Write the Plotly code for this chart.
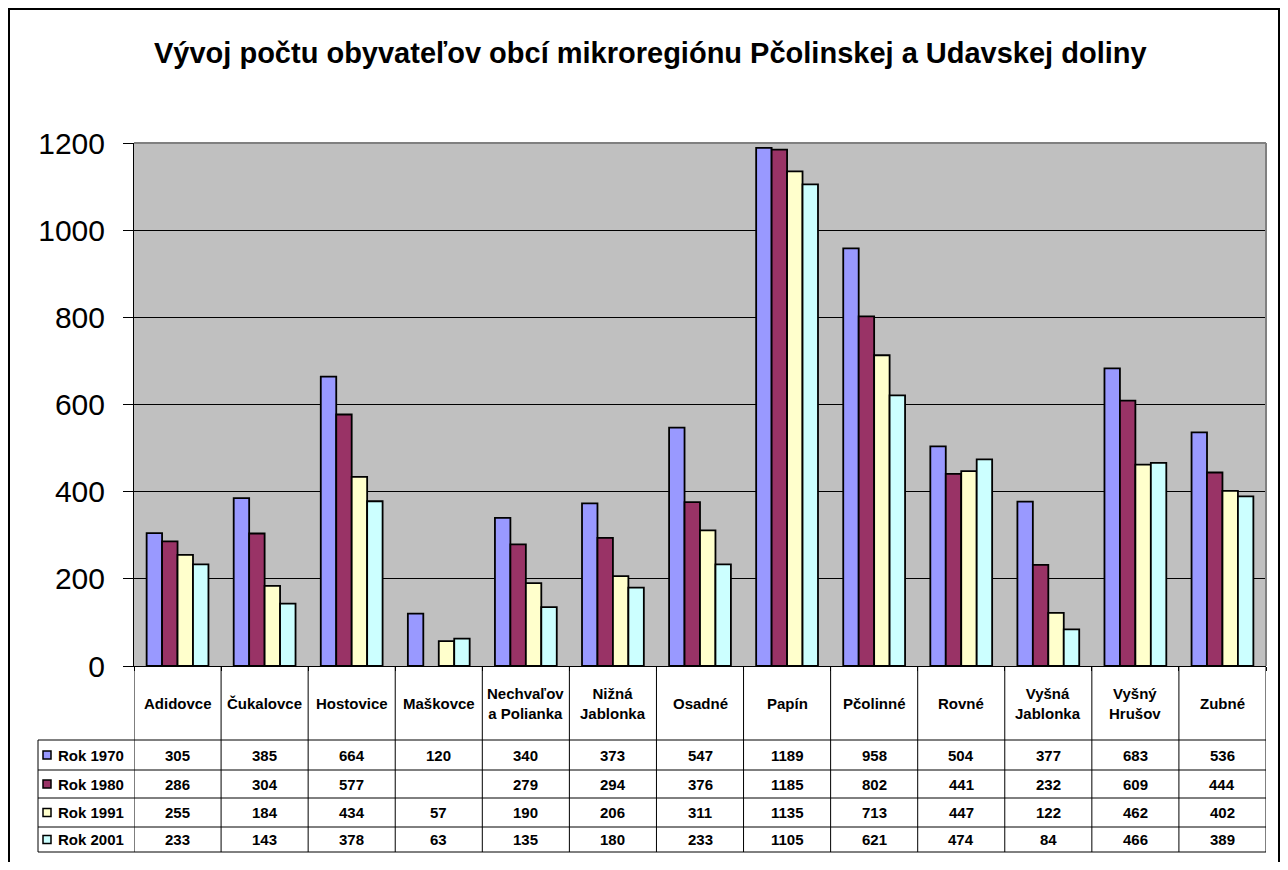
import plotly.graph_objects as go

# Obce mikroregiónu a počty obyvateľov v jednotlivých rokoch sčítania
obce = ['Adidovce', 'Čukalovce', 'Hostovice', 'Maškovce', 'Nechvaľov<br>a Polianka',
        'Nižná<br>Jablonka', 'Osadné', 'Papín', 'Pčolinné', 'Rovné',
        'Vyšná<br>Jablonka', 'Vyšný<br>Hrušov', 'Zubné']
roky = ['Rok 1970', 'Rok 1980', 'Rok 1991', 'Rok 2001']
rok_1970 = [305, 385, 664, 120, 340, 373, 547, 1189, 958, 504, 377, 683, 536]
rok_1980 = [286, 304, 577, None, 279, 294, 376, 1185, 802, 441, 232, 609, 444]
rok_1991 = [255, 184, 434, 57, 190, 206, 311, 1135, 713, 447, 122, 462, 402]
rok_2001 = [233, 143, 378, 63, 135, 180, 233, 1105, 621, 474, 84, 466, 389]
farby = ['#9999FF', '#993366', '#FFFFCC', '#CCFFFF']

OFF = 8  # okraj stránky (body margin)
W, H = 1288 - 2 * OFF, 870 - 2 * OFF
def px_x(p):
    return (p - OFF) / W
def px_y(p):
    return 1 - (p - OFF) / H

hodnoty = [rok_1970, rok_1980, rok_1991, rok_2001]
fig = go.Figure()
for rok, vals, c in zip(roky, hodnoty, farby):
    fig.add_trace(go.Bar(x=list(range(len(obce))), y=vals, name=rok, marker_color=c,
                         marker_line_color='black', marker_line_width=1.8))

font = 'Liberation Sans, Arial, sans-serif'
x_dom = [px_x(134), px_x(1266)]
y_dom = [px_y(666), px_y(143)]

fig.update_layout(
    width=W, height=H, margin=dict(l=0, r=0, t=0, b=0, autoexpand=False),
    paper_bgcolor='white', plot_bgcolor='#C0C0C0',
    barmode='group', bargap=0.29, bargroupgap=0,
    showlegend=False,
    font=dict(family=font, color='black'),
    xaxis=dict(domain=x_dom, range=[-0.5, len(obce) - 0.5], showticklabels=False, automargin=False,
               showgrid=False, zeroline=False, showline=True, linecolor='black', linewidth=1,
               tickmode='array', tickvals=[i - 0.5 for i in range(len(obce) + 1)],
               ticks='outside', ticklen=4, tickcolor='black'),
    yaxis=dict(domain=y_dom, range=[0, 1200], tickvals=[0, 200, 400, 600, 800, 1000, 1200],
               automargin=False,
               showgrid=True, gridcolor='black', gridwidth=1, zeroline=False,
               showline=True, linecolor='black', linewidth=1,
               ticks='outside', ticklen=10, tickcolor='black', ticklabelstandoff=12,
               tickfont=dict(size=30, family=font)),
)

# nadpis
fig.add_annotation(text='<b>Vývoj počtu obyvateľov obcí mikroregiónu Pčolinskej a Udavskej doliny</b>',
                   x=px_x(650), y=px_y(53), xref='paper', yref='paper', showarrow=False,
                   xanchor='center', yanchor='middle', font=dict(size=29, family=font))

shapes = []
# vonkajší rámček grafu
shapes.append(dict(type='rect', xref='paper', yref='paper', x0=px_x(9), x1=px_x(1279),
                   y0=px_y(900), y1=px_y(9), line=dict(color='black', width=2)))
# horný a pravý okraj plochy grafu
shapes.append(dict(type='line', xref='paper', yref='paper', x0=x_dom[0], x1=x_dom[1],
                   y0=y_dom[1], y1=y_dom[1], line=dict(color='#808080', width=2)))
shapes.append(dict(type='line', xref='paper', yref='paper', x0=x_dom[1], x1=x_dom[1],
                   y0=y_dom[0], y1=y_dom[1], line=dict(color='#808080', width=2)))

# tabuľka údajov pod grafom
riadky = [740, 770, 798, 827, 852]
for r in riadky:
    shapes.append(dict(type='line', xref='paper', yref='paper', x0=px_x(38), x1=px_x(1266),
                       y0=px_y(r), y1=px_y(r), line=dict(color='black', width=1)))
for i in range(len(obce) + 1):
    shapes.append(dict(type='line', xref='x', yref='paper', x0=i - 0.5, x1=i - 0.5,
                       y0=px_y(666), y1=px_y(852), line=dict(color='black', width=1)))
shapes.append(dict(type='line', xref='paper', yref='paper', x0=px_x(38), x1=px_x(38),
                   y0=px_y(740), y1=px_y(852), line=dict(color='black', width=1)))

for i, o in enumerate(obce):
    fig.add_annotation(text='<b>' + o + '</b>', x=i, y=px_y(703), xref='x', yref='paper',
                       showarrow=False, xanchor='center', yanchor='middle',
                       font=dict(size=15, family=font))

stredy = [755, 784, 812.5, 839.5]
for rok, vals, c, yc in zip(roky, hodnoty, farby, stredy):
    shapes.append(dict(type='rect', xref='paper', yref='paper', x0=px_x(43), x1=px_x(51),
                       y0=px_y(yc + 4), y1=px_y(yc - 4), fillcolor=c,
                       line=dict(color='black', width=1.5)))
    fig.add_annotation(text='<b>' + rok + '</b>', x=px_x(56), y=px_y(yc), xref='paper', yref='paper',
                       xanchor='left', yanchor='middle', showarrow=False,
                       font=dict(size=15, family=font))
    for i, v in enumerate(vals):
        if v is None:
            continue
        fig.add_annotation(text='<b>%d</b>' % v, x=i, y=px_y(yc), xref='x', yref='paper',
                           xanchor='center', yanchor='middle', showarrow=False,
                           font=dict(size=15, family=font))

fig.update_layout(shapes=shapes)
fig.write_html('out.html')
